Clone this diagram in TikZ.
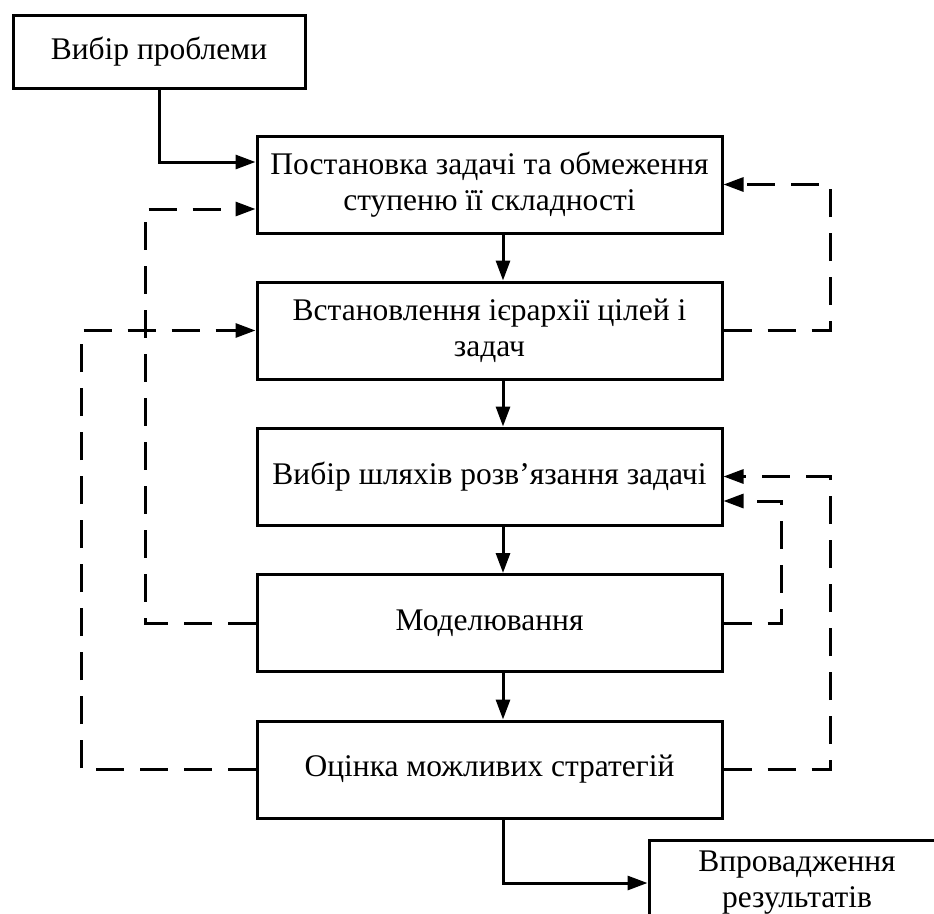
\documentclass[tikz,border=0pt]{standalone}
\usepackage{fontspec}
\setmainfont{Liberation Serif}
\usetikzlibrary{arrows.meta}

\begin{document}
\begin{tikzpicture}[x=1pt,y=-1pt]
\tikzset{block/.style = {shape=rectangle,draw,line width=3pt,minimum width=465pt,minimum height=97pt,inner sep=0pt,align=center,font=\fontsize{31.5}{36}\selectfont}}
\tikzset{flow/.style = {line width=3pt,-{Triangle[length=20pt,width=14pt]}}}
\tikzset{back/.style = {flow,dash pattern=on 28pt off 16pt}}
\useasboundingbox (0,0) rectangle (934,913);
\clip (0,0) rectangle (934,913);
% start and finish
\node[block,minimum width=292pt,minimum height=73pt] (b0) at (159,51.5) {Вибір проблеми};
\node[block,minimum width=296pt,minimum height=86pt] (b6) at (797,883) {Впровадження\\результатів};
% main column
\node[block] (b1) at (489.5,184.5) {Постановка задачі та обмеження\\ступеню її складності};
\node[block] (b2) at (489.5,330.5) {Встановлення ієрархії цілей і\\задач};
\node[block] (b3) at (489.5,476.5) {Вибір шляхів розв'язання задачі};
\node[block] (b4) at (489.5,623) {Моделювання};
\node[block] (b5) at (489.5,769.5) {Оцінка можливих стратегій};
% lines for the arrows
\coordinate (axis) at (503,0);
\coordinate (r1) at (830,0);
\coordinate (r2) at (781,0);
\coordinate (l1) at (145,0);
\coordinate (l2) at (81,0);
% solid arrows
\draw[flow] (b0.south) |- ([yshift=22.5pt]b1.west);
\draw[flow] (b1.south -| axis) -- (b2.north -| axis);
\draw[flow] (b2.south -| axis) -- (b3.north -| axis);
\draw[flow] (b3.south -| axis) -- (b4.north -| axis);
\draw[flow] (b4.south -| axis) -- (b5.north -| axis);
\draw[flow] (b5.south -| axis) |- (b6.west);
% feedback
\draw[back] (b2.east) -- (b2.east -| r1) |- (b1.east);
\draw[back] (b5.east) -- (b5.east -| r1) |- (b3.east);
\draw[back] (b4.east) -- (b4.east -| r2) |- ([yshift=-24.5pt]b3.east);
\draw[back] (b4.west) -- (b4.west -| l1) |- ([yshift=-24.5pt]b1.west);
\draw[back] (b5.west) -- (b5.west -| l2) |- (b2.west);
\end{tikzpicture}
\end{document}
